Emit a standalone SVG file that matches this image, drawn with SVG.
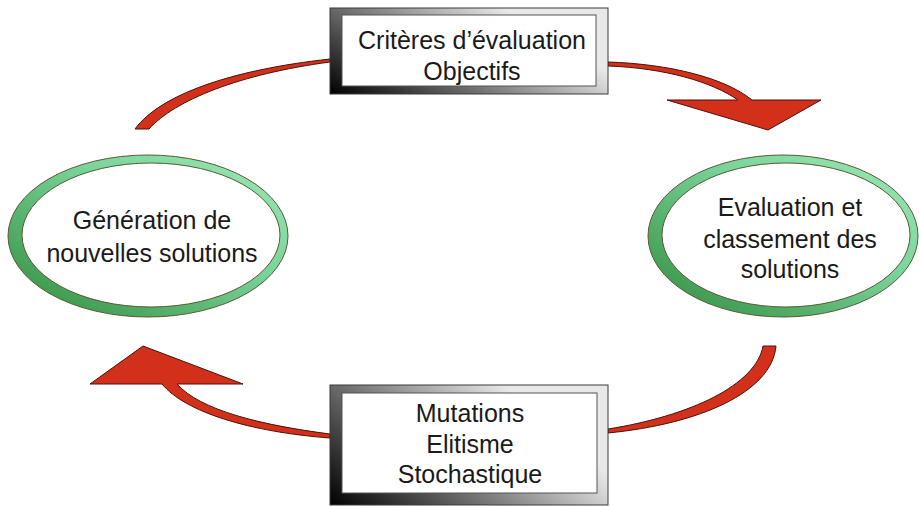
<svg xmlns="http://www.w3.org/2000/svg" width="919" height="506" viewBox="0 0 919 506">
  <defs>
    <linearGradient id="frameGrad" x1="0" y1="1" x2="1" y2="0.5">
      <stop offset="0" stop-color="#000000"/>
      <stop offset="0.9" stop-color="#e8e8e8"/>
    </linearGradient>
    <linearGradient id="ringGrad" x1="0" y1="1" x2="1" y2="0">
      <stop offset="0" stop-color="#2f8a3c"/>
      <stop offset="0.6" stop-color="#79d49a"/>
      <stop offset="1" stop-color="#9ce8b8"/>
    </linearGradient>
    <style>
      .frame { fill: url(#frameGrad); stroke: #3a3a3a; stroke-width: 1; }
      .inner { fill: #ffffff; stroke: #555555; stroke-width: 1; }
      .ring { fill: url(#ringGrad); stroke: #5b5a32; stroke-width: 1; }
      .hole { fill: #ffffff; stroke: #5b5a32; stroke-width: 1; }
      .label { font-family: "Liberation Sans", Arial, sans-serif; font-size: 25px; fill: #1a1a1a; text-anchor: middle; }
      .arrow { fill: #d2301a; stroke: #4a120a; stroke-width: 1; stroke-linejoin: round; }
    </style>
  </defs>

  <rect width="919" height="506" fill="#ffffff"/>

  <!-- connectors: curved tapered arrows between the four steps -->
  <g id="connectors">
    <path class="arrow" d="M135,129 C160,95 230,70 330,59 L330,62 C240,74 175,100 149,129 Z"/>
    <path class="arrow" d="M608,62 C670,64 725,78 752,100 L821,100 L768,130 L667,100 L738,100 C712,82 665,68 608,66 Z"/>
    <path class="arrow" d="M776,346 C772,392 700,424 608,433 L608,429 C690,416 756,385 763,346 Z"/>
    <path class="arrow" d="M330,434 C260,425 200,410 177,384 L243,384 L143,346 L90,384 L162,384 C185,412 250,432 330,438 Z"/>
  </g>

  <g id="criteres">
    <rect class="frame" x="330" y="8" width="278" height="86"/>
    <rect class="inner" x="342" y="15" width="254" height="71"/>
    <text class="label" x="472" y="49">Critères d’évaluation</text>
    <text class="label" x="472" y="80">Objectifs</text>
  </g>

  <g id="evaluation">
    <ellipse class="ring" cx="783" cy="236" rx="135" ry="81"/>
    <ellipse class="hole" cx="786" cy="235" rx="124" ry="72"/>
    <text class="label" x="790" y="216">Evaluation et</text>
    <text class="label" x="790" y="248">classement des</text>
    <text class="label" x="790" y="278">solutions</text>
  </g>

  <g id="operateurs">
    <rect class="frame" x="330" y="385" width="278" height="120"/>
    <rect class="inner" x="342" y="393" width="255" height="100"/>
    <text class="label" x="470" y="422">Mutations</text>
    <text class="label" x="470" y="453">Elitisme</text>
    <text class="label" x="470" y="483">Stochastique</text>
  </g>

  <g id="generation">
    <ellipse class="ring" cx="148" cy="236" rx="140" ry="81"/>
    <ellipse class="hole" cx="151" cy="235" rx="129" ry="72"/>
    <text class="label" x="152" y="229">Génération de</text>
    <text class="label" x="152" y="262">nouvelles solutions</text>
  </g>
</svg>
